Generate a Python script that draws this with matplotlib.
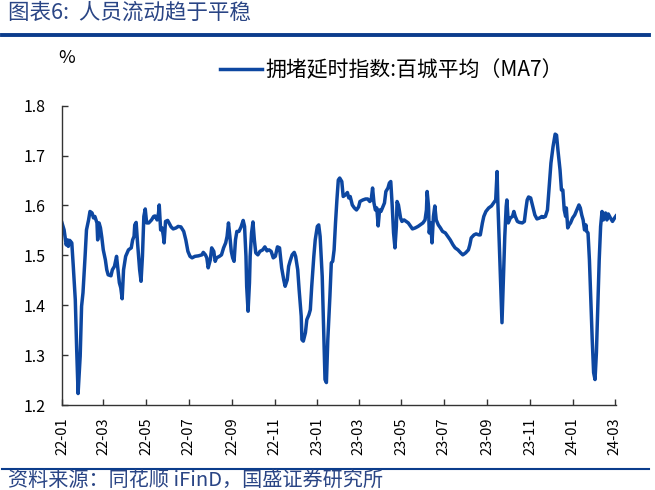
import matplotlib
matplotlib.use("Agg")
import matplotlib.pyplot as plt
import pandas as pd

plt.rcParams['font.family'] = ['Noto Sans CJK SC', 'DejaVu Sans']

# days since 2022-01-01
days = [0, 3, 6, 8, 9, 11, 14, 16, 19, 21, 23, 26, 28, 30, 33, 35, 38, 40, 43, 45,
        47, 50, 51, 53, 55, 57, 59, 62, 64, 66, 70, 72, 75, 78, 80, 82, 84, 86, 88, 91,
        95, 99, 101, 103, 104, 106, 108, 111, 113, 115, 117, 119, 121, 124, 126, 128, 131, 133, 136, 138,
        139, 141, 143, 145, 146, 148, 151, 153, 156, 159, 163, 166, 170, 174, 177, 180, 183, 186, 190, 195,
        200, 202, 205, 207, 209, 212, 214, 217, 219, 221, 225, 228, 231, 234, 236, 238, 240, 242, 244, 246,
        248, 250, 253, 256, 259, 261, 263, 264, 266, 268, 269, 271, 273, 275, 277, 280, 283, 287, 290, 293,
        296, 299, 302, 305, 308, 311, 312, 314, 317, 319, 322, 324, 326, 329, 332, 334, 337, 339, 342, 343,
        345, 348, 350, 353, 355, 357, 360, 362, 365, 367, 369, 372, 374, 376, 378, 380, 383, 385, 387, 389,
        391, 393, 395, 397, 400, 402, 405, 408, 410, 412, 415, 418, 421, 424, 426, 430, 434, 437, 440, 442,
        444, 446, 448, 450, 452, 454, 456, 458, 461, 463, 466, 468, 470, 472, 474, 476, 478, 479, 481, 484,
        486, 489, 492, 495, 498, 501, 505, 509, 512, 516, 519, 521, 522, 524, 525, 527, 529, 531, 533, 535,
        538, 541, 544, 548, 551, 555, 559, 562, 566, 570, 573, 577, 581, 583, 585, 589, 592, 596, 598, 601,
        603, 606, 610, 614, 617, 620, 622, 623, 625, 627, 629, 631, 633, 635, 636, 638, 641, 644, 646, 648,
        651, 654, 658, 661, 663, 665, 667, 670, 673, 676, 679, 683, 686, 688, 691, 694, 696, 699, 702, 705,
        707, 709, 712, 714, 716, 718, 720, 721, 723, 725, 727, 730, 733, 736, 739, 741, 743, 745, 747, 749,
        750, 752, 754, 756, 758, 760, 762, 764, 766, 768, 770, 772, 774, 777, 779, 781, 784, 787, 790, 792]

values = [1.565, 1.551, 1.521, 1.531, 1.518, 1.530, 1.525, 1.481, 1.411, 1.311, 1.223, 1.298, 1.398, 1.425, 1.498, 1.551, 1.571, 1.588, 1.585, 1.575,
          1.578, 1.565, 1.531, 1.565, 1.555, 1.535, 1.511, 1.491, 1.471, 1.461, 1.459, 1.471, 1.478, 1.498, 1.471, 1.445, 1.435, 1.413, 1.471, 1.498,
          1.511, 1.515, 1.531, 1.538, 1.561, 1.566, 1.525, 1.471, 1.448, 1.498, 1.578, 1.593, 1.565, 1.565, 1.568, 1.571, 1.578, 1.579, 1.571, 1.585,
          1.601, 1.551, 1.555, 1.538, 1.525, 1.568, 1.570, 1.565, 1.557, 1.553, 1.555, 1.558, 1.557, 1.548, 1.531, 1.508, 1.498, 1.495, 1.498, 1.499,
          1.501, 1.506, 1.501, 1.495, 1.475, 1.491, 1.515, 1.508, 1.488, 1.495, 1.498, 1.501, 1.515, 1.525, 1.538, 1.565, 1.538, 1.508, 1.495, 1.488,
          1.531, 1.548, 1.548, 1.557, 1.570, 1.558, 1.498, 1.438, 1.388, 1.445, 1.498, 1.545, 1.567, 1.531, 1.505, 1.501, 1.508, 1.511, 1.517, 1.509,
          1.511, 1.508, 1.495, 1.498, 1.517, 1.515, 1.501, 1.475, 1.451, 1.438, 1.451, 1.478, 1.488, 1.501, 1.506, 1.498, 1.471, 1.431, 1.378, 1.331,
          1.328, 1.345, 1.371, 1.381, 1.391, 1.438, 1.498, 1.531, 1.558, 1.561, 1.538, 1.458, 1.351, 1.251, 1.245, 1.331, 1.418, 1.485, 1.488, 1.511,
          1.565, 1.611, 1.651, 1.655, 1.648, 1.618, 1.621, 1.626, 1.615, 1.618, 1.601, 1.595, 1.591, 1.597, 1.608, 1.611, 1.613, 1.613, 1.608, 1.611,
          1.635, 1.605, 1.591, 1.595, 1.559, 1.591, 1.588, 1.595, 1.605, 1.628, 1.635, 1.645, 1.648, 1.601, 1.545, 1.515, 1.558, 1.608, 1.601, 1.575,
          1.568, 1.571, 1.568, 1.565, 1.559, 1.553, 1.555, 1.558, 1.561, 1.565, 1.571, 1.591, 1.628, 1.598, 1.545, 1.565, 1.525, 1.578, 1.599, 1.571,
          1.561, 1.555, 1.548, 1.545, 1.539, 1.531, 1.521, 1.515, 1.511, 1.505, 1.501, 1.505, 1.511, 1.521, 1.535, 1.541, 1.543, 1.541, 1.541, 1.565,
          1.578, 1.588, 1.595, 1.599, 1.605, 1.611, 1.668, 1.611, 1.531, 1.451, 1.365, 1.451, 1.538, 1.598, 1.611, 1.565, 1.575, 1.578, 1.588, 1.578,
          1.568, 1.566, 1.565, 1.568, 1.591, 1.611, 1.617, 1.615, 1.598, 1.581, 1.573, 1.575, 1.578, 1.576, 1.578, 1.591, 1.628, 1.685, 1.718, 1.743,
          1.741, 1.711, 1.671, 1.631, 1.631, 1.591, 1.578, 1.595, 1.555, 1.561, 1.565, 1.575, 1.581, 1.591, 1.601, 1.595, 1.581, 1.571, 1.551, 1.561,
          1.548, 1.545, 1.491, 1.411, 1.331, 1.265, 1.251, 1.305, 1.398, 1.491, 1.558, 1.588, 1.571, 1.585, 1.571, 1.583, 1.575, 1.568, 1.575, 1.579]

tick_labels = ['22-01', '22-03', '22-05', '22-07', '22-09', '22-11', '23-01',
               '23-03', '23-05', '23-07', '23-09', '23-11', '24-01', '24-03']
yticks = [1.2, 1.3, 1.4, 1.5, 1.6, 1.7, 1.8]

series_name = '拥堵延时指数:百城平均（MA7）'
title = '图表6:  人员流动趋于平稳'
source = '资料来源：同花顺 iFinD，国盛证券研究所'

dates = pd.Timestamp('2022-01-01') + pd.to_timedelta(days, unit='D')
tick_dates = [pd.Timestamp('20' + t[:2] + '-' + t[3:] + '-01') for t in tick_labels]

LINE = '#0D47A1'
DARK = '#2A4585'

fig = plt.figure(figsize=(6.55, 4.9), dpi=100)
ax = fig.add_axes([62/655, 1 - 405/490, (616 - 62)/655, (405 - 105.7)/490])

ax.plot(dates, values, color=LINE, lw=2.5, solid_joinstyle='round')

ax.set_ylim(1.2, 1.8)
ax.set_yticks(yticks)
ax.set_yticklabels([f'{v:.1f}' for v in yticks])
ax.set_xlim(dates[0], dates[-1])
ax.set_xticks(tick_dates)
ax.set_xticklabels(tick_labels, rotation=90)

for s in ['top', 'right']:
    ax.spines[s].set_visible(False)
for s in ['left', 'bottom']:
    ax.spines[s].set_color('#333333')
    ax.spines[s].set_linewidth(1.0)
ax.tick_params(axis='both', direction='in', length=4, width=1.0, color='#333333',
               labelcolor='black')
ax.tick_params(axis='x', pad=9, labelsize=10.5)
ax.tick_params(axis='y', pad=12, labelsize=11.5)

# legend
leg = ax.legend([series_name], loc='upper left', bbox_to_anchor=(150/554, 1 + 55/299),
                frameon=False, handlelength=2.0, handletextpad=0.15, fontsize=15,
                borderaxespad=0)
ax.text(-4/554, 1 + 48/299, '%', transform=ax.transAxes, fontsize=13,
        ha='left', va='center')

# title, rules, source
fig.text(8/655, 1 - 13/490, title, fontsize=15.5, color=DARK, style='italic',
         ha='left', va='center')
fig.add_artist(plt.Line2D([2/655, 649/655], [1 - 35/490, 1 - 35/490], color='#0B3C8C', lw=2.8))
fig.add_artist(plt.Line2D([2/655, 649/655], [1 - 469/490, 1 - 469/490], color='#0B3C8C', lw=1.5))
fig.text(8/655, 1 - 480/490, source, fontsize=14.5, color=DARK, style='italic',
         ha='left', va='center')

fig.savefig('out.png', dpi=100)
